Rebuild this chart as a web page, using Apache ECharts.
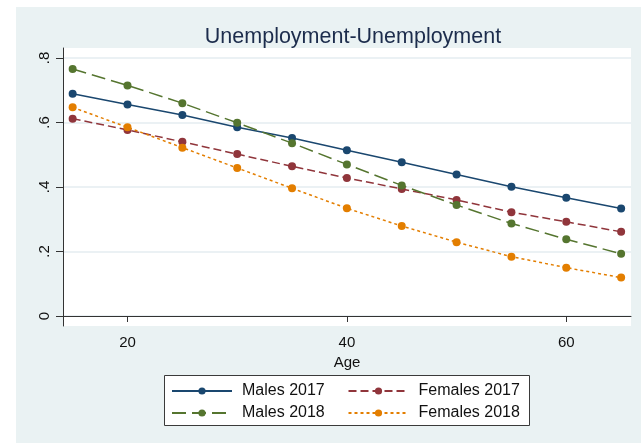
<!DOCTYPE html>
<html>
<head>
<meta charset="utf-8">
<script src="https://cdn.jsdelivr.net/npm/echarts@6/dist/echarts.min.js"></script>
<style>
html,body{margin:0;padding:0;background:#fff;}
#chart{width:641px;height:443px;}
</style>
</head>
<body>
<div id="chart"></div>
<script>
const titleText = 'Unemployment-Unemployment';
const xName = 'Age';
const ages = [15, 20, 25, 30, 35, 40, 45, 50, 55, 60, 65];
const males2017 = [0.689, 0.656, 0.623, 0.585, 0.552, 0.514, 0.477, 0.439, 0.401, 0.367, 0.333];
const females2017 = [0.612, 0.577, 0.540, 0.502, 0.464, 0.428, 0.394, 0.360, 0.322, 0.292, 0.261];
const males2018 = [0.766, 0.715, 0.660, 0.599, 0.536, 0.470, 0.405, 0.344, 0.287, 0.238, 0.193];
const females2018 = [0.647, 0.585, 0.522, 0.459, 0.396, 0.334, 0.279, 0.229, 0.184, 0.150, 0.119];
const xTicks = [20, 40, 60];
const yTicks = [0, 0.2, 0.4, 0.6, 0.8];
const yTickLabels = ['0', '.2', '.4', '.6', '.8'];
const seriesNames = ['Males 2017', 'Females 2017', 'Males 2018', 'Females 2018'];

const colors = ['#1a476f', '#90353b', '#55752f', '#e37e00'];
const dashes = ['solid', [8, 4], [14, 6], [3, 3]];
const values = [males2017, females2017, males2018, females2018];

const chart = echarts.init(document.getElementById('chart'), null, {renderer: 'canvas'});
const font = 'Liberation Sans, Arial, sans-serif';

const series = seriesNames.map((name, i) => ({
  name: name,
  type: 'line',
  data: ages.map((a, j) => [a, values[i][j]]),
  symbol: 'circle',
  symbolSize: 8,
  showSymbol: true,
  itemStyle: {color: colors[i]},
  lineStyle: {color: colors[i], width: 1.5, type: dashes[i]},
  emphasis: {disabled: true},
  animation: false,
  z: 3 + i
}));

const legendCommon = {
  orient: 'vertical',
  itemWidth: 60,
  itemHeight: 9,
  itemGap: 6,
  textStyle: {fontFamily: font, fontSize: 16, color: '#111', lineHeight: 16, padding: [0, 0, 0, 5]},
  selectedMode: false,
  padding: 0,
  z: 10
};

chart.setOption({
  backgroundColor: '#ffffff',
  animation: false,
  color: colors,
  graphic: [
    {type: 'rect', shape: {x: 16, y: 7, width: 640, height: 450}, style: {fill: '#eaf2f3'}, z: -10, silent: true},
    {type: 'rect', shape: {x: 164.5, y: 375.5, width: 365, height: 50}, style: {fill: '#ffffff', stroke: '#3a3a3a', lineWidth: 1}, z: 1, silent: true}
  ],
  title: {
    text: titleText,
    left: 348, top: 21, textAlign: 'center',
    textStyle: {fontFamily: font, fontSize: 21.5, fontWeight: 'normal', color: '#1c2c4c'}
  },
  grid: {left: 63, right: 10, top: 48, bottom: 117, show: true, backgroundColor: '#ffffff', borderWidth: 0, containLabel: false},
  xAxis: {
    type: 'value', min: 14.12, max: 65.9,
    name: xName, nameLocation: 'middle', nameGap: 21,
    nameTextStyle: {fontFamily: font, fontSize: 15, color: '#111'},
    axisLine: {show: true, lineStyle: {color: '#333', width: 1}},
    axisTick: {show: true, length: 6, inside: false, customValues: xTicks, lineStyle: {color: '#333'}},
    axisLabel: {customValues: xTicks, fontFamily: font, fontSize: 15, color: '#111', margin: 9},
    splitLine: {show: false}
  },
  yAxis: {
    type: 'value', min: -0.031, max: 0.831,
    axisLine: {show: true, lineStyle: {color: '#333', width: 1}},
    axisTick: {show: true, length: 7, inside: false, customValues: yTicks, lineStyle: {color: '#333'}},
    axisLabel: {
      customValues: yTicks, rotate: 90, fontFamily: font, fontSize: 15, color: '#111', margin: 11,
      formatter: v => { const k = yTicks.findIndex(t => Math.abs(t - v) < 1e-9); return k >= 0 ? yTickLabels[k] : ''; }
    },
    splitLine: {show: true, lineStyle: {color: '#e4edf0', width: 1.5}}
  },
  legend: [
    Object.assign({}, legendCommon, {data: [seriesNames[0], seriesNames[2]], left: 171, top: 383}),
    Object.assign({}, legendCommon, {data: [seriesNames[1], seriesNames[3]], left: 347.5, top: 383})
  ],
  series: series
});
</script>
</body>
</html>
